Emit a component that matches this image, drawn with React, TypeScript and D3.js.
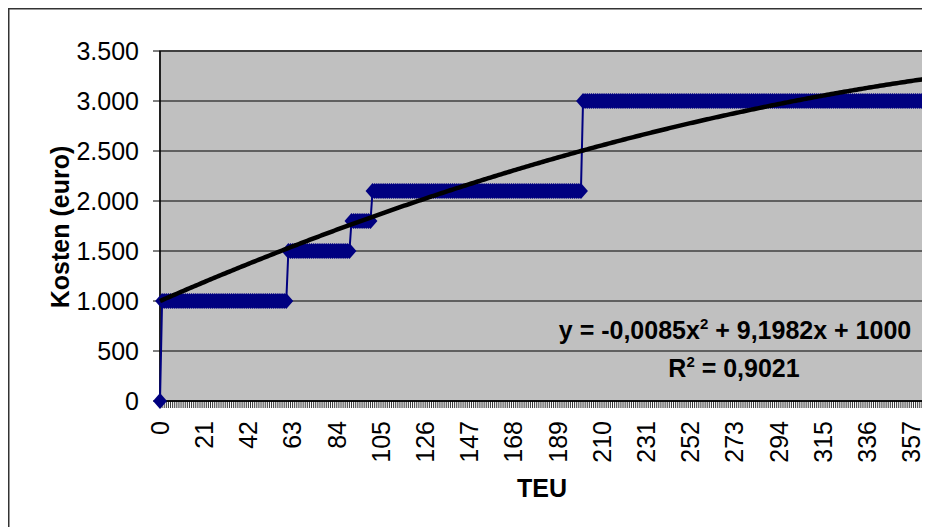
import React from "react";
import * as d3 from "d3";

// Step data: each run starts at the given TEU index and holds the given cost
const runStarts = [0, 1, 61, 91, 101, 201];
const runValues = [0, 1000, 1500, 1800, 2100, 3000];
const lastTeu = 363;
const yTicks = [0, 500, 1000, 1500, 2000, 2500, 3000, 3500];
const trendCoef = { a: -0.0085, b: 9.1982, c: 1000 };
const equationText = "y = -0,0085x";
const equationRest = " + 9,1982x + 1000";
const rText = " = 0,9021";

const teus: number[] = d3.range(0, lastTeu + 1);
const costs: number[] = teus.map((t) => {
  let v = runValues[0];
  runStarts.forEach((s, i) => {
    if (t >= s) v = runValues[i];
  });
  return v;
});

const W = 922;
const H = 519;
const M = { left: 152, right: 916, top: 43, bottom: 393 };
const FONT = "'Liberation Sans', Arial, sans-serif";
const FS = 25;

export default function App() {
  const x = d3.scaleLinear().domain([0, lastTeu]).range([M.left, M.right]);
  const y = d3.scaleLinear().domain([0, 3500]).range([M.bottom, M.top]);

  const line = d3
    .line<number>()
    .x((_, i) => x(teus[i]))
    .y((d) => y(d));

  const trendPts = d3.range(0, lastTeu + 1, 1);
  const trend = d3
    .line<number>()
    .x((t) => x(t))
    .y((t) => y(trendCoef.a * t * t + trendCoef.b * t + trendCoef.c));

  const hw = 7;
  const hh = 8;
  const diamond = `M0,${-hh}L${hw},0L0,${hh}L${-hw},0Z`;

  const labelTeus = teus.filter((t) => t % 21 === 0);

  return (
    <svg width={W} height={H} style={{ display: "block" }}>
      <rect x={0} y={0} width={W} height={H} fill="#fff" />
      <rect x={0.75} y={0.75} width={W + 10} height={H + 10} fill="none" stroke="#333" strokeWidth={1.5} />
      {/* plot area */}
      <rect
        x={M.left}
        y={M.top}
        width={M.right - M.left}
        height={M.bottom - M.top}
        fill="#C0C0C0"
        stroke="#808080"
        strokeWidth={2}
      />
      {/* gridlines */}
      {yTicks.map((v) => (
        <line key={"g" + v} x1={M.left} x2={M.right} y1={y(v)} y2={y(v)} stroke="#000" strokeWidth={1} />
      ))}
      {/* y axis */}
      <line x1={M.left} x2={M.left} y1={M.top} y2={M.bottom} stroke="#000" strokeWidth={1.5} />
      {yTicks.map((v) => (
        <g key={"yt" + v}>
          <line x1={M.left - 7} x2={M.left} y1={y(v)} y2={y(v)} stroke="#000" strokeWidth={1} />
          <text
            x={131}
            y={y(v)}
            dy="0.35em"
            textAnchor="end"
            fontFamily={FONT}
            fontSize={FS}
            fill="#000"
          >
            {d3.format(",")(v).replace(/,/g, ".")}
          </text>
        </g>
      ))}
      {/* x axis */}
      <line x1={M.left} x2={M.right} y1={M.bottom} y2={M.bottom} stroke="#000" strokeWidth={1.5} />
      {teus.map((t) => (
        <line key={"xt" + t} x1={x(t)} x2={x(t)} y1={M.bottom} y2={M.bottom + 7} stroke="#000" strokeWidth={0.8} />
      ))}
      {labelTeus.map((t) => (
        <text
          key={"xl" + t}
          transform={`translate(${x(t)},${413}) rotate(-90)`}
          dy="0.35em"
          textAnchor="end"
          fontFamily={FONT}
          fontSize={FS}
          fill="#000"
        >
          {t}
        </text>
      ))}
      {/* series */}
      <path d={line(costs) || ""} fill="none" stroke="#000080" strokeWidth={2} />
      {costs.map((c, i) => (
        <path key={"m" + i} d={diamond} transform={`translate(${x(teus[i])},${y(c)})`} fill="#000080" />
      ))}
      {/* trendline */}
      <path d={trend(trendPts) || ""} fill="none" stroke="#000" strokeWidth={4.5} />
      {/* equation */}
      <text x={727} y={331} textAnchor="middle" fontFamily={FONT} fontSize={FS} fontWeight="bold" fill="#000">
        {equationText}
        <tspan dy={-10} fontSize={15}>2</tspan>
        <tspan dy={10}>{equationRest}</tspan>
      </text>
      <text x={726} y={369} textAnchor="middle" fontFamily={FONT} fontSize={FS} fontWeight="bold" fill="#000">
        R<tspan dy={-10} fontSize={15}>2</tspan>
        <tspan dy={10}>{rText}</tspan>
      </text>
      {/* axis titles */}
      <text
        transform={`translate(${52},${219}) rotate(-90)`}
        dy="0.35em"
        textAnchor="middle"
        fontFamily={FONT}
        fontSize={FS}
        fontWeight="bold"
        fill="#000"
      >
        Kosten (euro)
      </text>
      <text x={534} y={489} textAnchor="middle" fontFamily={FONT} fontSize={FS} fontWeight="bold" fill="#000">
        TEU
      </text>
    </svg>
  );
}
